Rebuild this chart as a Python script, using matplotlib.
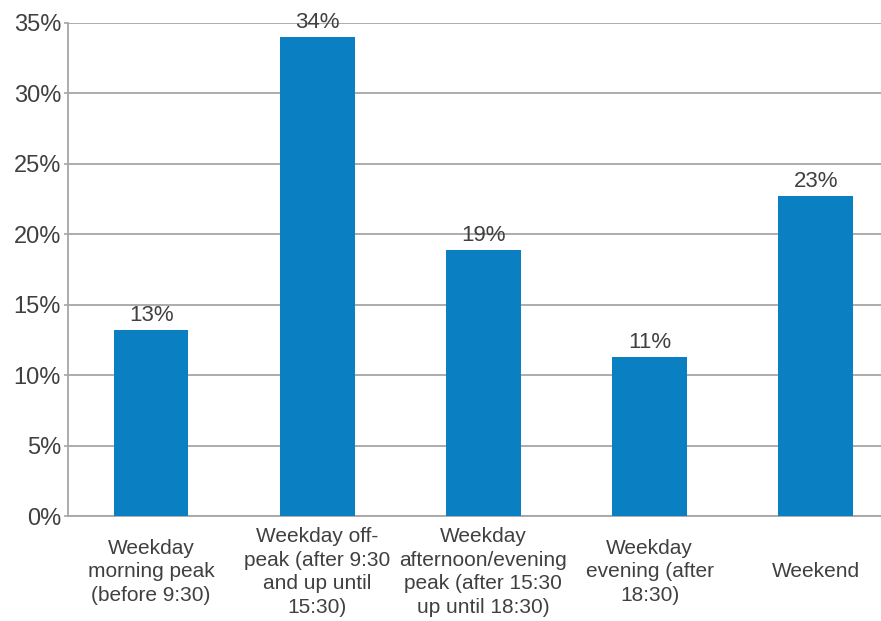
import numpy as np
import matplotlib.pyplot as plt
from matplotlib.ticker import FuncFormatter
import matplotlib.transforms as mtransforms

plt.rcParams['font.family'] = ['Liberation Sans', 'DejaVu Sans']

categories = [
    "Weekday\nmorning peak\n(before 9:30)",
    "Weekday off-\npeak (after 9:30\nand up until\n15:30)",
    "Weekday\nafternoon/evening\npeak (after 15:30\nup until 18:30)",
    "Weekday\nevening (after\n18:30)",
    "Weekend",
]
shares = [13.2, 34.0, 18.9, 11.3, 22.7]
share_labels = ["13%", "34%", "19%", "11%", "23%"]
yticks = [0, 5, 10, 15, 20, 25, 30, 35]

text_col = '#404040'
grid_col = '#a6a6a6'
bar_col = '#0a7fc1'

fig = plt.figure(figsize=(8.81, 6.21), dpi=100)
ax = fig.add_axes([0.0772, 0.169, 0.943, 0.794])

x = np.arange(len(categories))
bars = ax.bar(x, shares, width=0.45, color=bar_col, zorder=3)

for b, lab in zip(bars, share_labels):
    ax.annotate(lab, (b.get_x() + b.get_width() / 2, b.get_height()),
                xytext=(0, 3), textcoords='offset points',
                ha='center', va='bottom', fontsize=16, color=text_col)

ax.set_xlim(-0.5, len(categories) - 0.5)
ax.set_ylim(0, 35)
ax.set_yticks(yticks)
ax.yaxis.set_major_formatter(FuncFormatter(lambda v, p: f"{v:.0f}%"))
ax.tick_params(axis='y', labelsize=17, colors=grid_col, length=3,
               width=1.2, pad=2)
ax.tick_params(axis='y', labelcolor=text_col)
ax.set_xticks([])

ax.grid(axis='y', color=grid_col, linewidth=1.3, zorder=0)
for s in ['top', 'right']:
    ax.spines[s].set_visible(False)
ax.spines['left'].set_color(grid_col)
ax.spines['left'].set_linewidth(1.3)
ax.spines['bottom'].set_color(grid_col)
ax.spines['bottom'].set_linewidth(1.3)

trans = mtransforms.blended_transform_factory(ax.transData, ax.transAxes)
for xi, cat in zip(x, categories):
    ax.text(xi, -0.113, cat, transform=trans, ha='center', va='center',
            fontsize=15, color=text_col, linespacing=1.3)

fig.savefig('out.png', dpi=100)
